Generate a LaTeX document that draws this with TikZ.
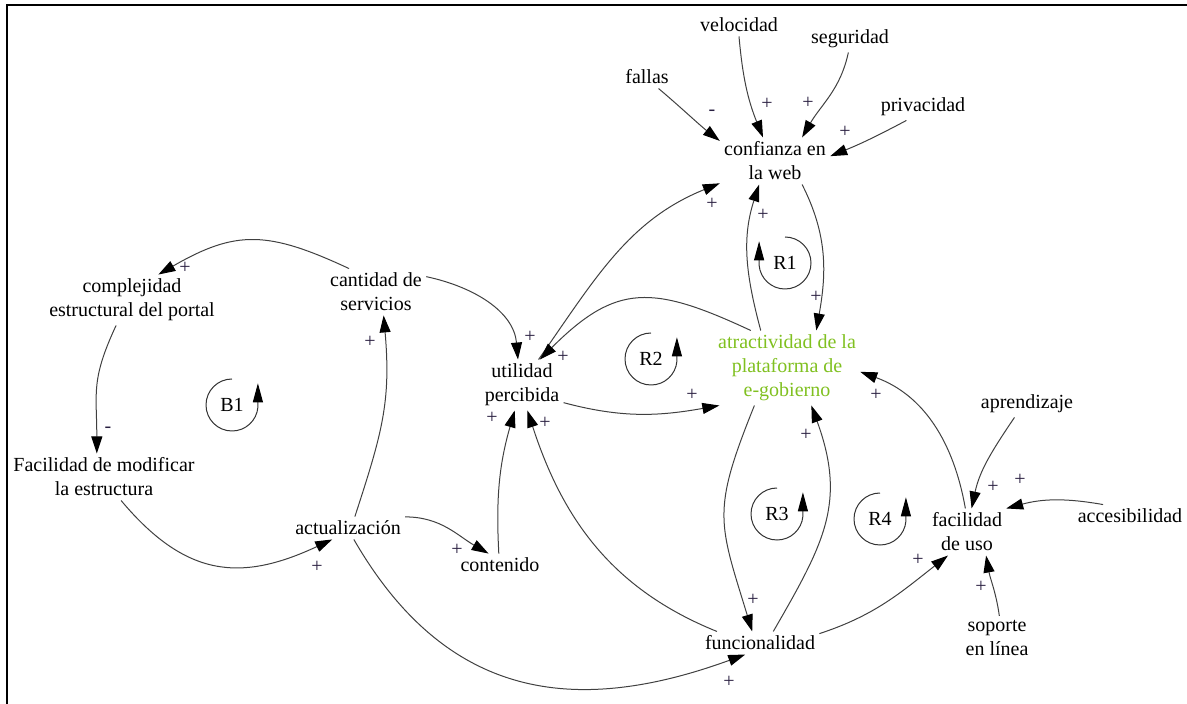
\documentclass[tikz,border=0pt]{standalone}
\usepackage{fontspec}
\setmainfont{Liberation Serif}
\usepackage{xcolor}
\usepackage{tikz}
\usetikzlibrary{arrows.meta}
\usetikzlibrary{calc}
\definecolor{atrgreen}{RGB}{128,192,32}
\definecolor{signcol}{RGB}{40,30,64}
\tikzstyle{var}=[align=center,inner sep=2pt]
\tikzstyle{edge} = [draw,black!75,line width=0.5pt,-{Triangle[length=8.5pt,width=5.5pt,color=black]}]
\tikzstyle{looparrow} = [draw,black!80,line width=0.5pt,-{Triangle[length=9.5pt,width=5pt,color=black]}]
\tikzstyle{sign} = [inner sep=0pt,text=signcol]

\begin{document}
\begin{tikzpicture}[x=0.5pt,y=0.5pt]
    \useasboundingbox (0,0) rectangle (1187,-704);
    % frame on the left and on top
    \draw[line width=0.8pt] (7,-704) -- (7,-5) -- (1187,-5);

    % First we draw the variables
    \foreach \pos/\name/\label in {{(647,-77)/fallas/fallas}, {(739,-25)/veloc/velocidad},
    {(850,-39)/segur/seguridad}, {(923,-107)/priv/privacidad},
    {(775,-161)/confianza/{confianza en\\la web}},
    {(132,-300)/complej/{complejidad\\estructural del portal}},
    {(376,-292)/cantidad/{cantidad de\\servicios}},
    {(522,-385)/utilidad/{utilidad\\percibida}},
    {(104,-477)/facmod/{Facilidad de modificar\\la estructura}},
    {(348,-528)/actual/actualización}, {(500,-565)/contenido/contenido},
    {(760,-643)/funcion/funcionalidad}, {(967,-532)/facuso/{facilidad\\de uso}},
    {(1027,-404)/aprend/aprendizaje}, {(1130,-516)/acces/accesibilidad},
    {(997,-638)/soporte/{soporte\\en línea}}}
        \node[var] (\name) at \pos {\label};
    \node[var,text=atrgreen] (atract) at (787,-368) {atractividad de la\\plataforma de\\e-gobierno};

    % Connect variables with curved links
    \foreach \source/\dest/\o/\i/\l in {fallas.-45/confianza.160/-40/142/0.8,
    veloc.-90/confianza.117/-85/112/1, segur.-97/confianza.41/-102/60/1,
    priv.-141/confianza.5/-152/22/1, utilidad.57/confianza.-158/55/-158/1,
    confianza.-41/atract.52/-63/80/1, atract.125/confianza.-124/105/-108/1,
    atract.134/utilidad.55/155/45/1.3, utilidad.-23/atract.-151/-15/190/1,
    cantidad.17/utilidad.99/-12/95/1, cantidad.139/complej.44/155/30/1.2,
    complej.-122/facmod.107/-115/90/1.2, facmod.-54/actual.-144/-50/205/1.2,
    actual.59/cantidad.-72/72/-85/1.1, actual.11/contenido.135/0/150/1,
    contenido.96/utilidad.-106/93/-106/1, funcion.165/utilidad.-78/158/-72/1,
    actual.-63/funcion.-142/-60/200/1.15, atract.-131/funcion.124/-112/107/1.3,
    funcion.41/atract.-57/60/-70/1.15, funcion.9/facuso.-129/18/-142/1,
    facuso.94/atract.-3/100/-20/1, aprend.-133/facuso.79/-124/78/1,
    acces.157/facuso.31/170/15/1, soporte.84/facuso.-51/98/-80/1}
        \path[edge] (\source) to[out=\o,in=\i,looseness=\l] (\dest);

    % polarity of the links
    \foreach \pos/\sgn [count=\k] in {(712,-113)/-, (767,-104)/+, (808,-103)/+, (845,-132)/+,
    (712,-204)/+, (763,-215)/+, (816,-297)/+, (530,-337)/+, (563,-357)/+,
    (692,-395)/+, (876,-395)/+, (492,-418)/+, (545,-423)/+, (806,-435)/+,
    (185,-268)/+, (370,-342)/+, (108,-430)/-, (317,-567)/+, (457,-550)/+,
    (729,-682)/+, (753,-600)/+, (918,-560)/+, (993,-487)/+, (1020,-480)/+,
    (981,-587)/+}
        \node[sign] (p\k) at \pos {\sgn};

    % loop markers
    \foreach \pos/\name in {(232,-405)/B1, (785,-263)/R1, (651,-359)/R2,
    (777,-514)/R3, (880,-519)/R4}
        \node[var] (\name) at \pos {\name};
    \foreach \name/\e in {B1/355, R2/355, R3/355, R4/355, R1/-175}
        \path[looparrow] ([yshift=13pt]\name.center) arc[start angle=90,end angle=\e,radius=13pt] -- ++(0,12pt);
\end{tikzpicture}
\end{document}
